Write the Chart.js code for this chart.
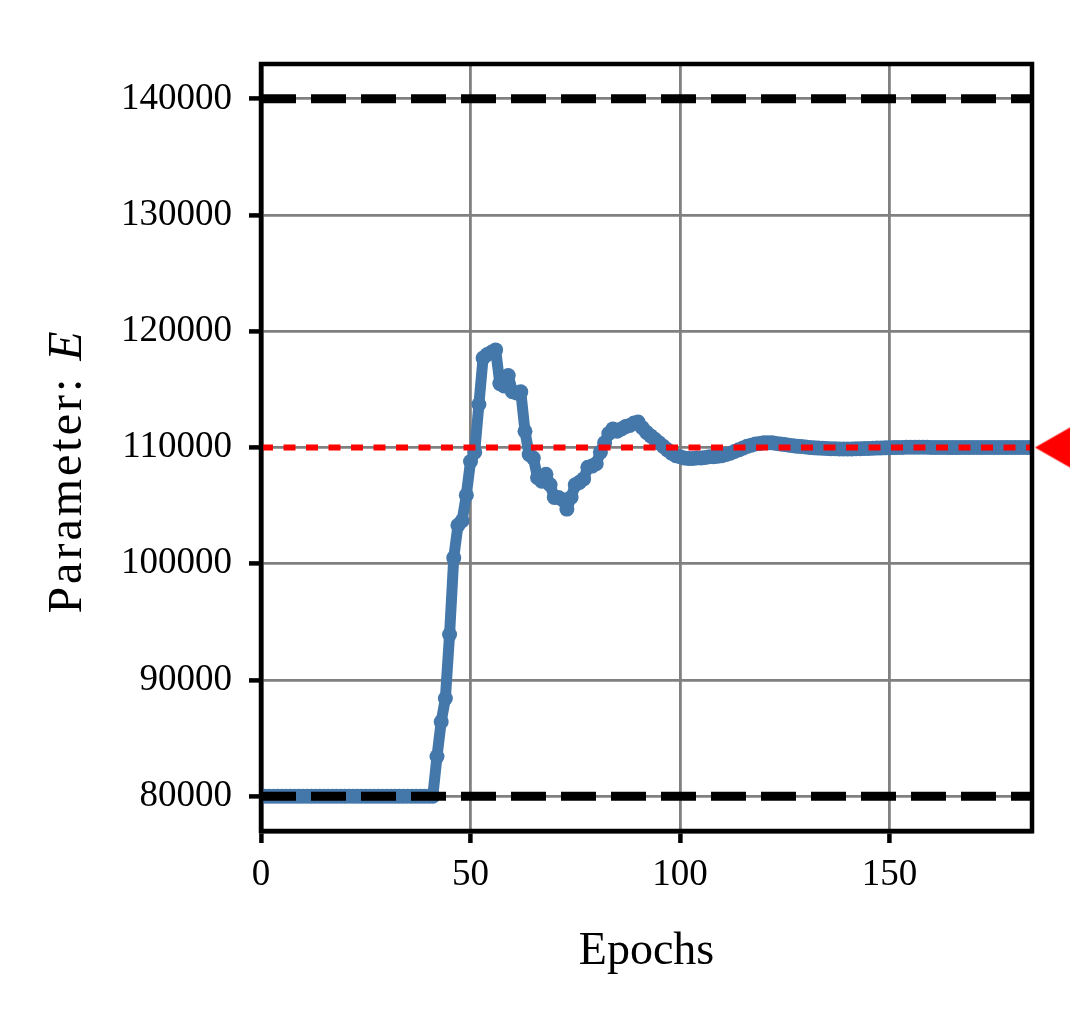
<!DOCTYPE html>
<html>
<head>
<meta charset="utf-8">
<script src="https://cdn.jsdelivr.net/npm/chart.js@4/dist/chart.umd.min.js"></script>
<style>
  html, body { margin: 0; padding: 0; background: #fff; }
  canvas { display: block; }
</style>
</head>
<body>
<canvas id="paramChart" width="1080" height="1029"></canvas>
<script>
// axis limits and ticks
const epochLimits = [0, 184];
const paramLimits = [77000, 143000];
const epochTicks = [0, 50, 100, 150];
const paramTicks = [80000, 90000, 100000, 110000, 120000, 130000, 140000];

// bounds and target value of the parameter
const lowerBound = 80000;
const upperBound = 140000;
const targetE = 110000;
const targetMarkerEpoch = 184.7;

// parameter E per epoch
const paramE = [
  80000, 80000, 80000, 80000, 80000, 80000, 80000, 80000, 80000, 80000,
  80000, 80000, 80000, 80000, 80000, 80000, 80000, 80000, 80000, 80000,
  80000, 80000, 80000, 80000, 80000, 80000, 80000, 80000, 80000, 80000,
  80000, 80000, 80000, 80000, 80000, 80000, 80000, 80000, 80000, 80000,
  80000, 80000, 83400, 86400, 88400, 93900, 100500, 103300, 103700, 105900,
  108800, 109600, 113700, 117700, 118000, 118200, 118400, 115500, 115300, 116200,
  114800, 114700, 114800, 111400, 109400, 109100, 107400, 107100, 107700, 106800,
  105700, 105700, 105500, 104700, 105700, 106800, 107000, 107300, 108300, 108400,
  108600, 109600, 110400, 111200, 111600, 111400, 111600, 111800, 111900, 112100,
  112200, 111700, 111300, 111000, 110700, 110400, 110100, 109800, 109500, 109300,
  109200, 109100, 109050, 109050, 109100, 109100, 109150, 109200, 109200, 109250,
  109300, 109400, 109500, 109650, 109800, 109950, 110100, 110200, 110300, 110350,
  110400, 110400, 110400, 110350, 110300, 110250, 110200, 110150, 110100, 110080,
  110050, 110000, 109970, 109950, 109930, 109920, 109900, 109890, 109880, 109880,
  109880, 109880, 109890, 109900, 109910, 109920, 109930, 109950, 109960, 109970,
  109980, 109990, 110000, 110010, 110020, 110020, 110030, 110030, 110020, 110020,
  110010, 110010, 110000, 110000, 110000, 109990, 109990, 110000, 110000, 110000,
  110000, 110000, 110000, 110000, 110000, 110000, 110000, 110000, 110000, 110000,
  110000, 110000, 110000, 110000
];

const serif = "'Liberation Serif', 'Times New Roman', serif";

// left-pointing marker whose tip sits on the point itself
function makeArrowHead() {
  const c = document.createElement("canvas");
  c.width = 70;
  c.height = 42;
  const g = c.getContext("2d");
  g.fillStyle = "#ff0000";
  g.beginPath();
  g.moveTo(35, 21);
  g.lineTo(70, 1);
  g.lineTo(70, 41);
  g.closePath();
  g.fill();
  return c;
}

// y title has an italic E, so it is drawn by hand; also closes the frame
const framePlugin = {
  id: "frame",
  afterDatasetsDraw(chart) {
    const { ctx, chartArea: a } = chart;
    ctx.save();
    ctx.strokeStyle = "#000";
    ctx.lineWidth = 4.5;
    ctx.strokeRect(a.left, a.top, a.right - a.left, a.bottom - a.top);
    ctx.restore();
  },
  afterDraw(chart) {
    const { ctx } = chart;
    const plain = "48px " + serif;
    const italic = "italic 48px " + serif;
    const head = "Parameter: ";
    ctx.save();
    ctx.fillStyle = "#000";
    ctx.textBaseline = "alphabetic";
    ctx.letterSpacing = "3px";
    ctx.font = plain;
    const w1 = ctx.measureText(head).width;
    ctx.font = italic;
    const w2 = ctx.measureText("E").width;
    ctx.translate(81, 471);
    ctx.rotate(-Math.PI / 2);
    const start = -(w1 + w2) / 2;
    ctx.font = plain;
    ctx.fillText(head, start, 0);
    ctx.font = italic;
    ctx.fillText("E", start + w1, 0);
    ctx.restore();
  }
};

const hLine = (y) => [{ x: epochLimits[0], y: y }, { x: epochLimits[1], y: y }];

new Chart(document.getElementById("paramChart"), {
  type: "line",
  data: {
    datasets: [
      {
        data: hLine(targetE),
        borderColor: "#ff0000",
        borderWidth: 6,
        borderDash: [12, 10.5],
        pointRadius: 0,
        order: 1
      },
      {
        data: hLine(upperBound),
        borderColor: "#000",
        borderWidth: 9,
        borderDash: [35, 15],
        pointRadius: 0,
        order: 1
      },
      {
        data: hLine(lowerBound),
        borderColor: "#000",
        borderWidth: 9,
        borderDash: [35, 15],
        pointRadius: 0,
        order: 1
      },
      {
        type: "scatter",
        data: [{ x: targetMarkerEpoch, y: targetE }],
        pointStyle: makeArrowHead(),
        pointRadius: 5,
        pointBorderWidth: 0,
        backgroundColor: "#ff0000",
        borderColor: "#ff0000",
        clip: false,
        order: 0
      },
      {
        data: paramE.map((v, i) => ({ x: i, y: v })),
        borderColor: "#4477aa",
        backgroundColor: "#4477aa",
        borderWidth: 11,
        pointRadius: 7.5,
        pointBorderWidth: 0,
        tension: 0,
        borderJoinStyle: "round",
        order: 5
      }
    ]
  },
  options: {
    responsive: false,
    animation: false,
    devicePixelRatio: 1,
    layout: { padding: { top: 64, right: 48, left: 0, bottom: 0 } },
    plugins: {
      legend: { display: false },
      tooltip: { enabled: false }
    },
    scales: {
      x: {
        type: "linear",
        min: epochLimits[0],
        max: epochLimits[1],
        afterBuildTicks: (s) => { s.ticks = epochTicks.map(v => ({ value: v })); },
        afterFit: (s) => { s.height = 198; },
        grid: { color: "#808080", lineWidth: 2.8, tickColor: "#000", tickWidth: 4.5, tickLength: 12 },
        border: { display: true, color: "#000", width: 4.5 },
        ticks: { color: "#000", padding: 10, maxRotation: 0, font: { family: serif, size: 37 } },
        title: {
          display: true,
          text: "Epochs",
          color: "#000",
          font: { family: serif, size: 46 },
          padding: { top: 0, bottom: 49 }
        }
      },
      y: {
        type: "linear",
        min: paramLimits[0],
        max: paramLimits[1],
        afterBuildTicks: (s) => { s.ticks = paramTicks.map(v => ({ value: v })); },
        afterFit: (s) => { s.width = 261; },
        grid: { color: "#808080", lineWidth: 2.8, tickColor: "#000", tickWidth: 4.5, tickLength: 12 },
        border: { display: true, color: "#000", width: 4.5 },
        ticks: { color: "#000", padding: 17, font: { family: serif, size: 37 }, callback: (v) => String(v) }
      }
    }
  },
  plugins: [framePlugin]
});
</script>
</body>
</html>
